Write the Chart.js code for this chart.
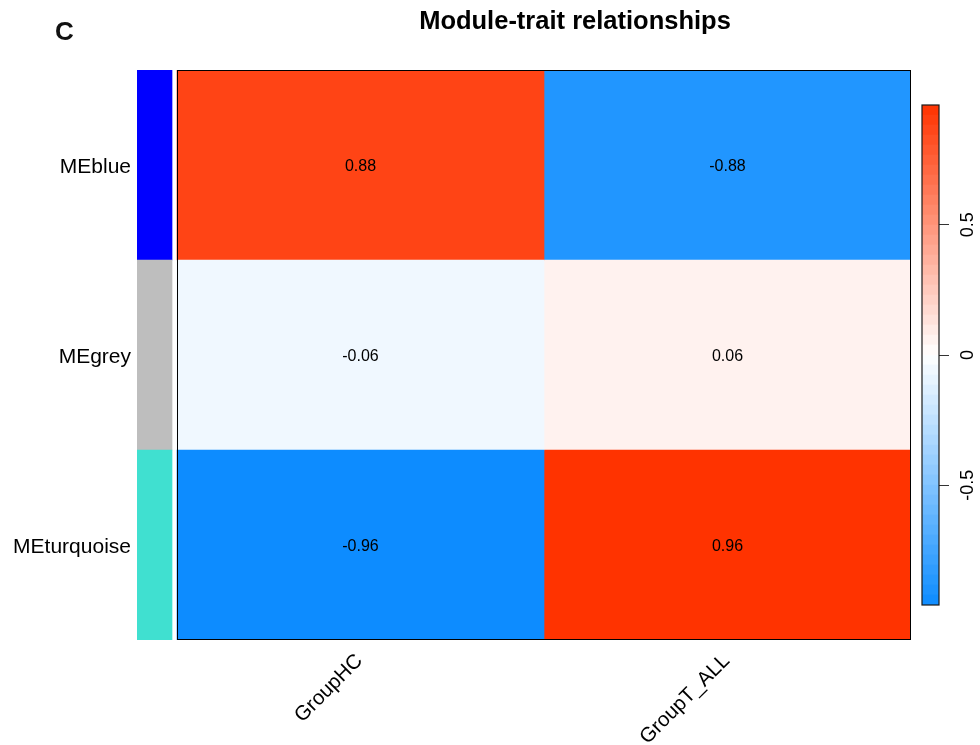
<!DOCTYPE html>
<html>
<head>
<meta charset="utf-8">
<script src="https://cdn.jsdelivr.net/npm/chart.js@4.4.1/dist/chart.umd.min.js"></script>
<style>
  html, body { margin: 0; padding: 0; background: #ffffff; }
  #wrap { position: relative; width: 980px; height: 745px; overflow: hidden; font-family: "Liberation Sans", Arial, sans-serif; }
  #main { position: absolute; left: 0; top: 0; }
  #bar { position: absolute; left: 915px; top: 95px; }
  .panel { position: absolute; left: 55px; top: 18px; font-size: 26px; font-weight: bold; line-height: 1; color: #111; }
  .title { position: absolute; left: 375px; top: 8px; width: 400px; text-align: center; font-size: 25.5px; font-weight: bold; line-height: 1; color: #000; white-space: nowrap; }
</style>
</head>
<body>
<div id="wrap">
  <canvas id="main" width="980" height="745"></canvas>
  <canvas id="bar" width="65" height="520"></canvas>
  <div class="panel">C</div>
  <div class="title">Module-trait relationships</div>
</div>
<script>
// Module eigengenes (rows) and traits (columns)
const moduleLabels = ['MEblue', 'MEgrey', 'MEturquoise'];
const moduleColors = ['#0000FF', '#BEBEBE', '#40E0D0'];
const traitLabels = ['GroupHC', 'GroupT_ALL'];

// Correlation of each module eigengene with each trait
const corGroupHC = [0.88, -0.06, -0.96];
const corGroupTALL = [-0.88, 0.06, 0.96];
const corColumns = [corGroupHC, corGroupTALL];

// Colour-key tick values
const keyTicks = [-0.5, 0, 0.5];

const FONT = '"Liberation Sans", Arial, sans-serif';

// blue - white - red palette
const blueEnd = [13, 140, 255];
const redEnd = [255, 51, 0];
const zMax = Math.max(...corColumns.flat().map(Math.abs));

function corColor(v) {
  const f = Math.min(1, Math.abs(v) / zMax);
  const end = v < 0 ? blueEnd : redEnd;
  const c = end.map(e => Math.round(255 + f * (e - 255)));
  return `rgb(${c[0]},${c[1]},${c[2]})`;
}

// Side strip of module colours sits just left of the heatmap
const stripStart = -0.109;
const stripEnd = -0.0136;

const datasets = [{
  data: moduleLabels.map(() => [stripStart, stripEnd]),
  backgroundColor: moduleColors
}];
corColumns.forEach((col, j) => {
  datasets.push({
    data: col.map(() => [j, j + 1]),
    backgroundColor: col.map(corColor)
  });
});
datasets.forEach(d => {
  d.grouped = false;
  d.barPercentage = 1;
  d.categoryPercentage = 1;
  d.borderWidth = 0;
});

// Frame around the cells and the correlation values inside them
const cellPlugin = {
  id: 'cellText',
  afterDatasetsDraw(chart) {
    const { ctx, chartArea } = chart;
    const xs = chart.scales.x, ys = chart.scales.y;
    ctx.save();
    ctx.font = '16px ' + FONT;
    ctx.fillStyle = '#000';
    ctx.textAlign = 'center';
    ctx.textBaseline = 'middle';
    corColumns.forEach((col, j) => {
      col.forEach((v, i) => {
        ctx.fillText(v.toFixed(2), xs.getPixelForValue(j + 0.5), ys.getPixelForValue(i) + 2);
      });
    });
    const x0 = xs.getPixelForValue(0), x1 = xs.getPixelForValue(traitLabels.length);
    ctx.strokeStyle = '#000';
    ctx.lineWidth = 1;
    ctx.strokeRect(Math.round(x0) + 0.5, Math.round(chartArea.top) + 0.5,
      Math.round(x1 - x0) - 1, Math.round(chartArea.bottom - chartArea.top) - 1);
    ctx.restore();
  }
};

new Chart(document.getElementById('main'), {
  type: 'bar',
  data: { labels: moduleLabels, datasets },
  options: {
    indexAxis: 'y',
    responsive: false,
    animation: false,
    layout: { padding: { top: 70, right: 69, left: 0, bottom: 0 } },
    plugins: { legend: { display: false }, tooltip: { enabled: false }, title: { display: false } },
    scales: {
      x: {
        type: 'linear',
        min: stripStart,
        max: traitLabels.length,
        grid: { display: false, drawTicks: false },
        border: { display: false },
        afterBuildTicks: s => { s.ticks = traitLabels.map((t, i) => ({ value: i + 0.5 })); },
        afterFit: s => { s.height = 105; },
        ticks: {
          autoSkip: false,
          minRotation: 45,
          maxRotation: 45,
          padding: 9,
          labelOffset: -1,
          color: '#000',
          font: { family: FONT, size: 20.5 },
          callback: (v, i) => traitLabels[i]
        }
      },
      y: {
        grid: { display: false, drawTicks: false },
        border: { display: false },
        afterFit: s => { s.width = 137; },
        ticks: {
          padding: 6,
          labelOffset: 2,
          color: '#000',
          font: { family: FONT, size: 21 }
        }
      }
    }
  },
  plugins: [cellPlugin]
});

// Colour key
const nBins = 50;
const keyData = [];
const keyColors = [];
for (let k = 0; k < nBins; k++) {
  const lo = -zMax + (2 * zMax) * k / nBins;
  const hi = -zMax + (2 * zMax) * (k + 1) / nBins;
  keyData.push([lo, hi]);
  keyColors.push(corColor((lo + hi) / 2));
}
const keyDatasets = keyData.map((r, k) => ({
  data: [r],
  backgroundColor: keyColors[k],
  grouped: false,
  barPercentage: 1,
  categoryPercentage: 1,
  borderWidth: 0
}));

const keyFrame = {
  id: 'keyFrame',
  afterDatasetsDraw(chart) {
    const { ctx, chartArea: a } = chart;
    ctx.save();
    ctx.strokeStyle = '#1a1a1a';
    ctx.lineWidth = 1.2;
    ctx.strokeRect(a.left, a.top, a.right - a.left, a.bottom - a.top);
    ctx.restore();
  }
};

new Chart(document.getElementById('bar'), {
  type: 'bar',
  data: { labels: [''], datasets: keyDatasets },
  options: {
    responsive: false,
    animation: false,
    layout: { padding: { left: 7, top: 10, bottom: 10, right: 0 } },
    plugins: { legend: { display: false }, tooltip: { enabled: false } },
    scales: {
      x: { display: false },
      y: {
        position: 'right',
        min: -zMax,
        max: zMax,
        afterBuildTicks: s => { s.ticks = keyTicks.map(v => ({ value: v })); },
        afterFit: s => { s.width = 41; s.paddingTop = 0; s.paddingBottom = 0; },
        grid: { drawOnChartArea: false, drawTicks: true, tickLength: 10, color: '#333', tickColor: '#333' },
        border: { display: false },
        ticks: {
          minRotation: 90,
          maxRotation: 90,
          crossAlign: 'center',
          padding: 4,
          color: '#000',
          font: { family: FONT, size: 18 },
          callback: v => String(v)
        }
      }
    }
  },
  plugins: [keyFrame]
});
</script>
</body>
</html>
